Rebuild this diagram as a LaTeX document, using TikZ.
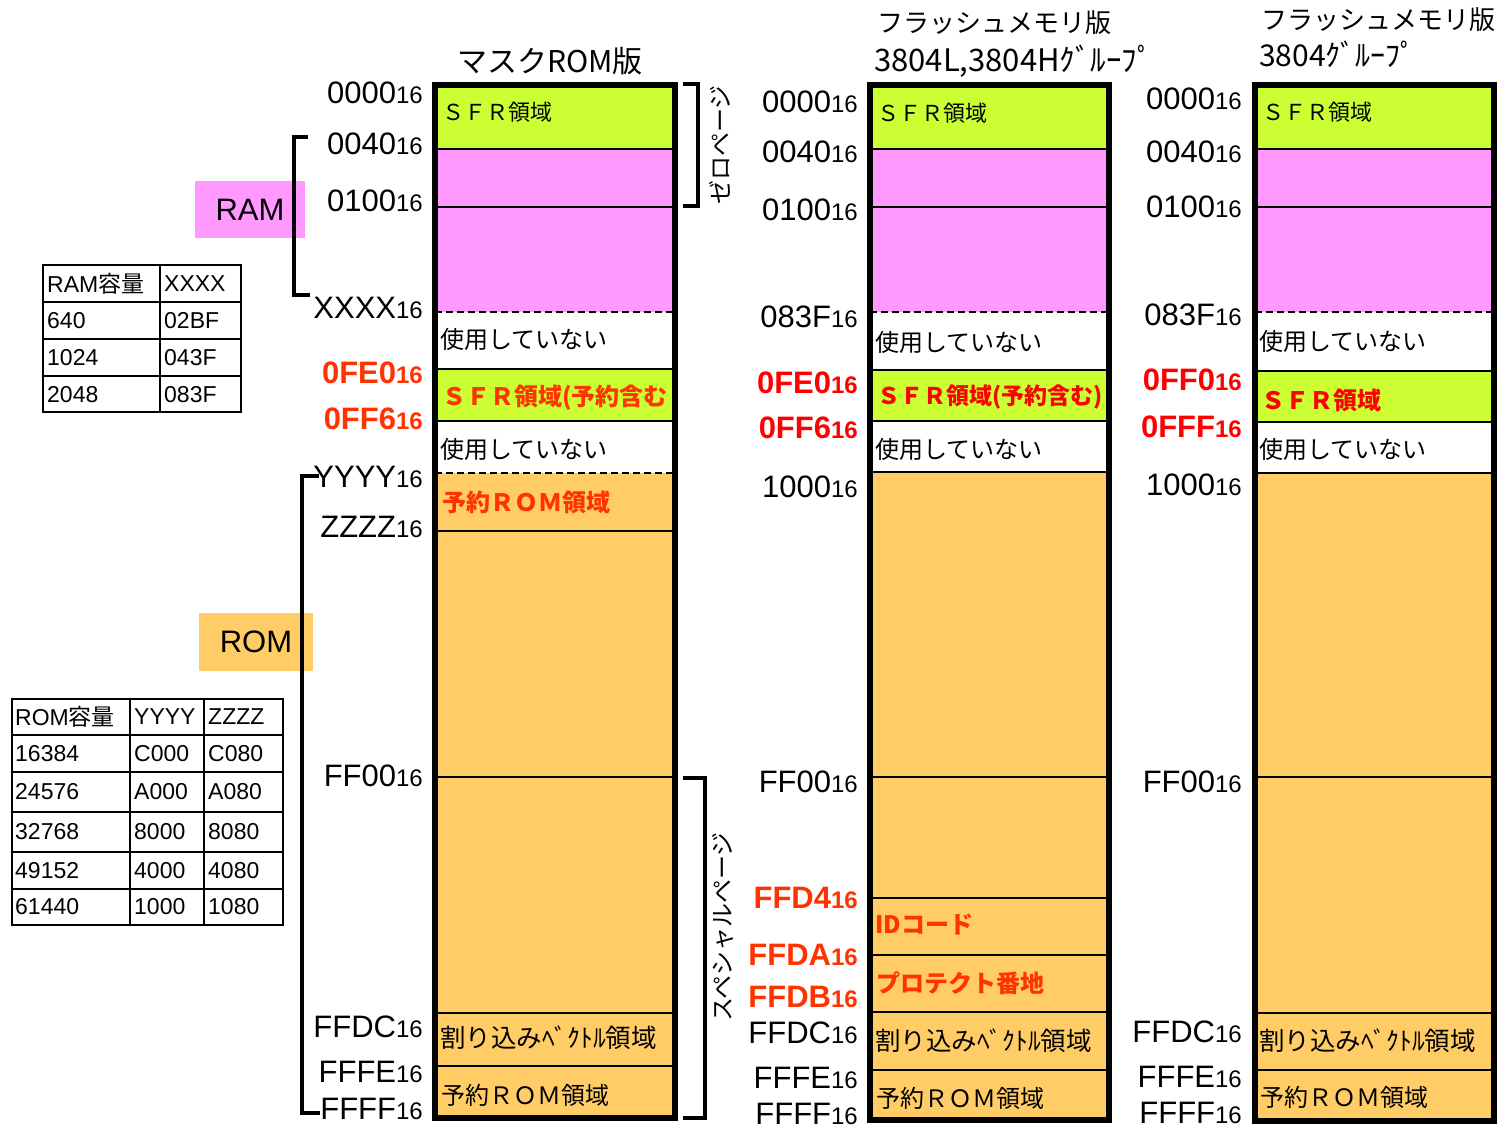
\documentclass[tikz,border=0pt]{standalone}
\usepackage{fontspec}
\setmainfont{Liberation Sans}
\newfontfamily\jp{Noto Sans CJK JP}
\definecolor{sfrg}{HTML}{CCFF33}
\definecolor{ramp}{HTML}{FF99FF}
\definecolor{romo}{HTML}{FFCC66}
\definecolor{redo}{HTML}{FF3300}
\definecolor{redp}{HTML}{FF0000}
\newcommand\hx[1]{#1{\fontsize{24}{24}\selectfont 16}}
\tikzset{
  adr/.style={anchor=base east, inner sep=0pt, font=\fontsize{31}{31}\selectfont},
  radr/.style={adr, font=\fontsize{31}{31}\selectfont\bfseries},
  rt/.style={anchor=west, inner sep=0pt, font=\jp\fontsize{24}{24}\selectfont},
  vrt/.style={anchor=west, inner sep=0pt, font=\jp\fontsize{25.5}{25.5}\selectfont},
  brt/.style={anchor=west, inner sep=0pt, font=\jp\fontsize{24}{24}\selectfont\bfseries},
  ttl/.style={inner sep=0pt, font=\jp\fontsize{26}{26}\selectfont},
  tb/.style={anchor=west, inner sep=0pt, font=\fontsize{23}{23}\selectfont},
  inner/.style={line width=2.5pt},
  dsh/.style={line width=2.5pt, dash pattern=on 7pt off 4pt},
  outer/.style={line width=6pt},
  brk/.style={line width=4pt},
  vt/.style={rotate=90, inner sep=0pt, font=\jp\fontsize{24}{24}\selectfont}
}
\begin{document}
\begin{tikzpicture}[x=1pt,y=-1pt]
\useasboundingbox (0,0) rectangle (1499,1129);
\fill[white] (0,0) rectangle (1499,1129);

% ---------- Column 1: mask ROM ----------
\fill[sfrg] (435,85) rectangle (675,149);
\fill[ramp] (435,149) rectangle (675,312);
\fill[sfrg] (435,369) rectangle (675,421);
\fill[romo] (435,473) rectangle (675,1118);
\foreach \y in {149,207,369,421,531,777,1013,1066} \draw[inner] (435,\y) -- (675,\y);
\foreach \y in {312,473} \draw[dsh] (435,\y) -- (675,\y);
\draw[outer] (435,85) rectangle (675,1118);

% ---------- Column 2: flash 3804L/H ----------
\fill[sfrg] (870,85) rectangle (1109,149);
\fill[ramp] (870,149) rectangle (1109,312);
\fill[sfrg] (870,370) rectangle (1109,421);
\fill[romo] (870,472) rectangle (1109,1120);
\foreach \y in {149,207,370,421,472,777,898,955,1012,1070} \draw[inner] (870,\y) -- (1109,\y);
\draw[dsh] (870,312) -- (1109,312);
\draw[outer] (870,85) rectangle (1109,1120);

% ---------- Column 3: flash 3804 ----------
\fill[sfrg] (1255,85) rectangle (1494,149);
\fill[ramp] (1255,149) rectangle (1494,312);
\fill[sfrg] (1255,371) rectangle (1494,422);
\fill[romo] (1255,473) rectangle (1494,1121);
\foreach \y in {149,207,371,422,473,777,1013,1070} \draw[inner] (1255,\y) -- (1494,\y);
\draw[dsh] (1255,312) -- (1494,312);
\draw[outer] (1255,85) rectangle (1494,1121);

% ---------- Titles ----------
\node[ttl, anchor=base, font=\jp\fontsize{30}{30}\selectfont] (t1) at (550,73) {マスクROM版};
\node[ttl, anchor=base west] (t2a) at (877,33) {フラッシュメモリ版};
\node[ttl, anchor=base west, font=\jp\fontsize{31}{31}\selectfont] (t2b) at (874,72) {3804L,3804Hｸﾞﾙｰﾌﾟ};
\node[ttl, anchor=base west] (t3a) at (1261,30) {フラッシュメモリ版};
\node[ttl, anchor=base west, font=\jp\fontsize{30}{30}\selectfont] (t3b) at (1259,67) {3804ｸﾞﾙｰﾌﾟ};

% ---------- Column 1 addresses ----------
\node[adr] (a10) at (423,104) {\hx{0000}};
\node[adr] (a11) at (423,154) {\hx{0040}};
\node[adr] (a12) at (423,211) {\hx{0100}};
\node[adr] (a13) at (423,318) {\hx{XXXX}};
\node[radr, text=redo] (a14) at (423,383) {\hx{0FE0}};
\node[radr, text=redo] (a15) at (423,429) {\hx{0FF6}};
\node[adr] (a16) at (423,487) {\hx{YYYY}};
\node[adr] (a17) at (423,537) {\hx{ZZZZ}};
\node[adr] (a18) at (423,786) {\hx{FF00}};
\node[adr] (a19) at (423,1037) {\hx{FFDC}};
\node[adr] (a1a) at (423,1082) {\hx{FFFE}};
\node[adr] (a1b) at (423,1119) {\hx{FFFF}};

% ---------- Column 2 addresses ----------
\node[adr] (a20) at (858,113) {\hx{0000}};
\node[adr] (a21) at (858,163) {\hx{0040}};
\node[adr] (a22) at (858,220) {\hx{0100}};
\node[adr] (a23) at (858,327) {\hx{083F}};
\node[radr, text=redp] (a24) at (858,393) {\hx{0FE0}};
\node[radr, text=redp] (a25) at (858,438) {\hx{0FF6}};
\node[adr] (a26) at (858,497) {\hx{1000}};
\node[adr] (a27) at (858,792) {\hx{FF00}};
\node[radr, text=redo] (a28) at (858,908) {\hx{FFD4}};
\node[radr, text=redo] (a29) at (858,965) {\hx{FFDA}};
\node[radr, text=redo] (a2a) at (858,1007) {\hx{FFDB}};
\node[adr] (a2b) at (858,1043) {\hx{FFDC}};
\node[adr] (a2c) at (858,1088) {\hx{FFFE}};
\node[adr] (a2d) at (858,1124) {\hx{FFFF}};

% ---------- Column 3 addresses ----------
\node[adr] (a30) at (1242,110) {\hx{0000}};
\node[adr] (a31) at (1242,162) {\hx{0040}};
\node[adr] (a32) at (1242,217) {\hx{0100}};
\node[adr] (a33) at (1242,325) {\hx{083F}};
\node[radr, text=redp] (a34) at (1242,390) {\hx{0FF0}};
\node[radr, text=redp] (a35) at (1242,437) {\hx{0FFF}};
\node[adr] (a36) at (1242,495) {\hx{1000}};
\node[adr] (a37) at (1242,792) {\hx{FF00}};
\node[adr] (a38) at (1242,1042) {\hx{FFDC}};
\node[adr] (a39) at (1242,1087) {\hx{FFFE}};
\node[adr] (a3a) at (1242,1123) {\hx{FFFF}};

% ---------- Column 1 region texts ----------
\node[rt, font=\jp\fontsize{22}{22}\selectfont] (r10) at (442,112) {ＳＦＲ領域};
\node[rt] (r11) at (440,339) {使用していない};
\node[brt, text=redo] (r12) at (442,398) {ＳＦＲ領域(予約含む};
\node[rt] (r13) at (440,449) {使用していない};
\node[brt, text=redo] (r14) at (442,502) {予約ＲＯＭ領域};
\node[vrt] (r15) at (440,1038) {割り込みﾍﾞｸﾄﾙ領域};
\node[rt] (r16) at (441,1095) {予約ＲＯＭ領域};

% ---------- Column 2 region texts ----------
\node[rt, font=\jp\fontsize{22}{22}\selectfont] (r20) at (877,113) {ＳＦＲ領域};
\node[rt] (r21) at (875,342) {使用していない};
\node[brt, text=redp, font=\jp\fontsize{23}{23}\selectfont\bfseries] (r22) at (877,397) {ＳＦＲ領域(予約含む)};
\node[rt] (r23) at (875,449) {使用していない};
\node[brt, text=redo] (r24) at (875,925) {IDコード};
\node[brt, text=redo] (r25) at (876,983) {プロテクト番地};
\node[vrt] (r26) at (875,1041) {割り込みﾍﾞｸﾄﾙ領域};
\node[rt] (r27) at (876,1098) {予約ＲＯＭ領域};

% ---------- Column 3 region texts ----------
\node[rt, font=\jp\fontsize{22}{22}\selectfont] (r30) at (1262,112) {ＳＦＲ領域};
\node[rt] (r31) at (1259,341) {使用していない};
\node[brt, text=redp] (r32) at (1261,400) {ＳＦＲ領域};
\node[rt] (r33) at (1259,449) {使用していない};
\node[vrt] (r34) at (1259,1041) {割り込みﾍﾞｸﾄﾙ領域};
\node[rt] (r35) at (1260,1097) {予約ＲＯＭ領域};

% ---------- RAM / ROM labels and brackets ----------
\node[fill=ramp, inner sep=0pt, minimum width=110pt, minimum height=57pt, font=\fontsize{31}{31}\selectfont] (ramlbl) at (250,209.5) {RAM};
\node[fill=romo, inner sep=0pt, minimum width=114pt, minimum height=58pt, font=\fontsize{31}{31}\selectfont] (romlbl) at (256,642) {ROM};
\coordinate (rb1) at (308,137);
\coordinate (rb2) at (310,295);
\draw[brk] (rb1) -| (294,295) -- (rb2);
\coordinate (ob1) at (319,476);
\coordinate (ob2) at (320,1113);
\draw[brk] (ob1) -| (302,1113) -- (ob2);

% zero page / special page brackets
\coordinate (zb1) at (683,84);
\coordinate (zb2) at (683,206);
\draw[brk] (zb1) -| (698,206) -- (zb2);
\node[vt] (zp) at (720,145) {ゼロページ};
\coordinate (sb1) at (683,778);
\coordinate (sb2) at (683,1118);
\draw[brk] (sb1) -| (705,1118) -- (sb2);
\node[vt] (sp) at (723,927) {スペシャルページ};

% ---------- RAM table ----------
\draw[line width=2.5pt] (43,265) rectangle (241,412);
\draw[line width=2.5pt] (160,265) -- (160,412);
\foreach \y in {302,339,376} \draw[line width=2.5pt] (43,\y) -- (241,\y);
\node[tb] (ram00) at (47,284) {RAM{\jp 容量}};
\node[tb] (ram01) at (164,284) {XXXX};
\node[tb] (ram10) at (47,321) {640};
\node[tb] (ram11) at (164,321) {02BF};
\node[tb] (ram20) at (47,358) {1024};
\node[tb] (ram21) at (164,358) {043F};
\node[tb] (ram30) at (47,395) {2048};
\node[tb] (ram31) at (164,395) {083F};

% ---------- ROM table ----------
\draw[line width=2.5pt] (12,699) rectangle (283,925);
\foreach \x in {130,204} \draw[line width=2.5pt] (\x,699) -- (\x,925);
\foreach \y in {735,772,812,852,889} \draw[line width=2.5pt] (12,\y) -- (283,\y);
\node[tb] (rom00) at (15,717) {ROM{\jp 容量}};
\node[tb] (rom01) at (134,717) {YYYY};
\node[tb] (rom02) at (208,717) {ZZZZ};
\node[tb] (rom10) at (15,754) {16384};
\node[tb] (rom11) at (134,754) {C000};
\node[tb] (rom12) at (208,754) {C080};
\node[tb] (rom20) at (15,792) {24576};
\node[tb] (rom21) at (134,792) {A000};
\node[tb] (rom22) at (208,792) {A080};
\node[tb] (rom30) at (15,832) {32768};
\node[tb] (rom31) at (134,832) {8000};
\node[tb] (rom32) at (208,832) {8080};
\node[tb] (rom40) at (15,871) {49152};
\node[tb] (rom41) at (134,871) {4000};
\node[tb] (rom42) at (208,871) {4080};
\node[tb] (rom50) at (15,907) {61440};
\node[tb] (rom51) at (134,907) {1000};
\node[tb] (rom52) at (208,907) {1080};
\end{tikzpicture}
\end{document}
